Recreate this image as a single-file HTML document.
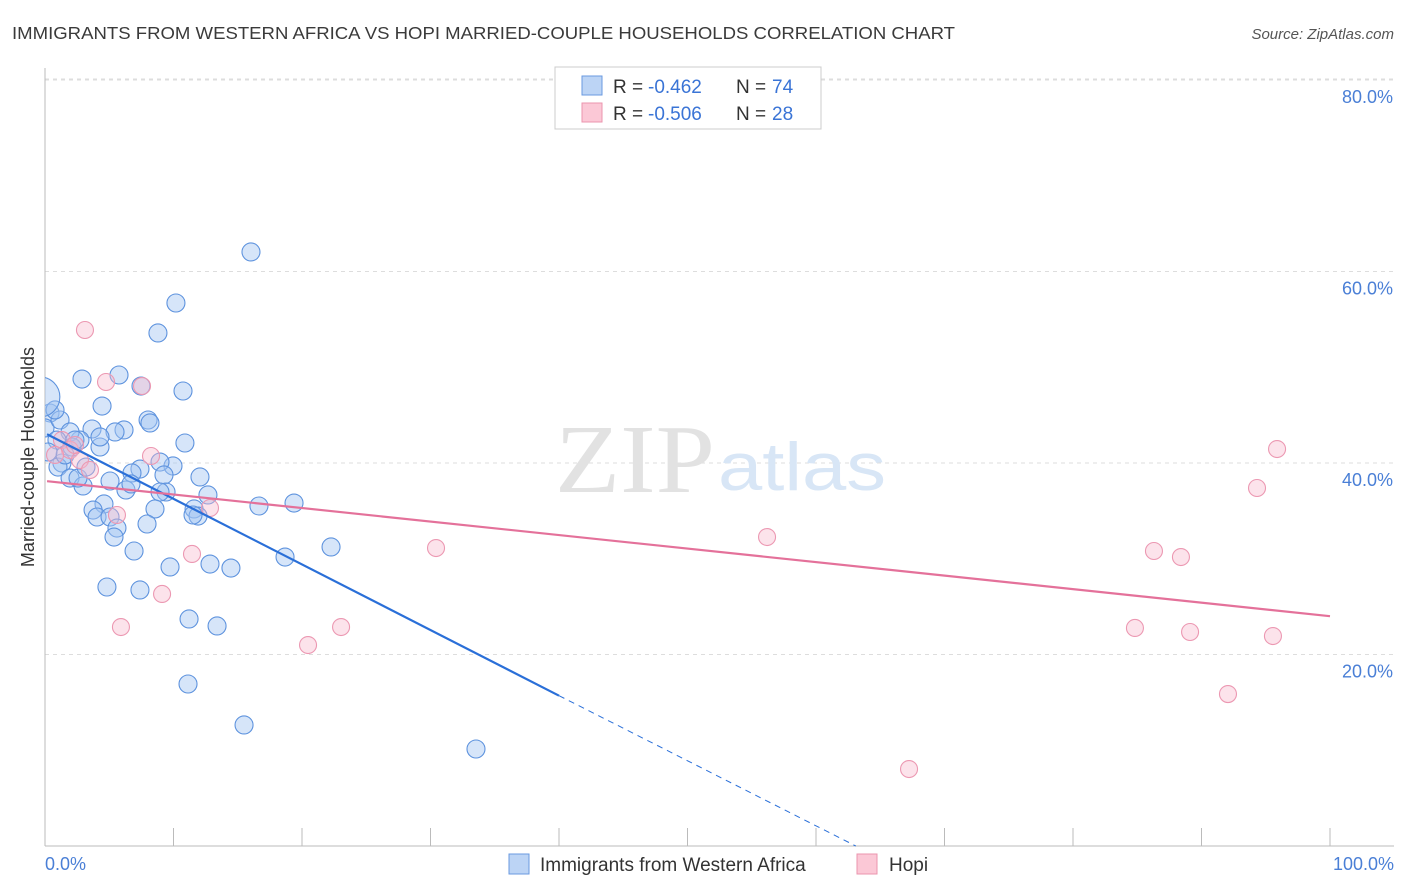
<!DOCTYPE html>
<html><head><meta charset="utf-8"><style>
body{margin:0;background:#fff;font-family:"Liberation Sans",sans-serif}
svg{display:block}
</style></head><body>
<svg width="1406" height="892" xmlns="http://www.w3.org/2000/svg">
<defs><clipPath id="plot"><rect x="45" y="60" width="1360" height="786"/></clipPath></defs>
<text x="12" y="39" font-size="17.5" fill="#3a3a3a" textLength="943" lengthAdjust="spacingAndGlyphs">IMMIGRANTS FROM WESTERN AFRICA VS HOPI MARRIED-COUPLE HOUSEHOLDS CORRELATION CHART</text>
<text x="1394" y="39" font-size="15" fill="#555" text-anchor="end" font-style="italic">Source: ZipAtlas.com</text>
<g id="grid"></g>
<text x="555" y="492" font-size="98" fill="#e2e2e2" font-family="Liberation Serif,serif" textLength="160" lengthAdjust="spacingAndGlyphs">ZIP</text>
<text x="718" y="490" font-size="68" fill="#d8e6f6" textLength="168" lengthAdjust="spacingAndGlyphs">atlas</text>
<line x1="45" y1="68" x2="45" y2="846" stroke="#bbb"/>
<line x1="45" y1="846" x2="1394" y2="846" stroke="#bbb"/>
<g id="ticks"></g>
<g id="ylabels"></g>
<text x="45" y="870" font-size="18" fill="#4a7fd6">0.0%</text>
<text x="1394" y="870" font-size="18" fill="#4a7fd6" text-anchor="end">100.0%</text>
<text transform="translate(34,457) rotate(-90)" font-size="18" fill="#333" text-anchor="middle">Married-couple Households</text>
<g id="pts" clip-path="url(#plot)"></g>
<g id="lines"></g>
<g>
<rect x="555" y="67" width="266" height="62" fill="#fff" stroke="#ccc"/>
<rect x="582" y="76" width="20" height="19" fill="#bcd4f5" stroke="#6a9ae0"/>
<rect x="582" y="103" width="20" height="19" fill="#fbc8d6" stroke="#eb94ae"/>
<text x="613" y="93" font-size="19" fill="#333">R =</text>
<text x="648" y="93" font-size="19" fill="#3a74d6">-0.462</text>
<text x="736" y="93" font-size="19" fill="#333">N =</text>
<text x="772" y="93" font-size="19" fill="#3a74d6">74</text>
<text x="613" y="120" font-size="19" fill="#333">R =</text>
<text x="648" y="120" font-size="19" fill="#3a74d6">-0.506</text>
<text x="736" y="120" font-size="19" fill="#333">N =</text>
<text x="772" y="120" font-size="19" fill="#3a74d6">28</text>
</g>
<g>
<rect x="509" y="854" width="20" height="20" fill="#bcd4f5" stroke="#6a9ae0"/>
<text x="540" y="871" font-size="19" fill="#333">Immigrants from Western Africa</text>
<rect x="857" y="854" width="20" height="20" fill="#fbc8d6" stroke="#eb94ae"/>
<text x="889" y="871" font-size="19" fill="#333">Hopi</text>
</g>
</svg>
<script>
const yTicks=[20,40,60,80];
const yTickLabels=["20.0%","40.0%","60.0%","80.0%"];
const xTicks=[0,10,20,30,40,50,60,70,80,90,100];
const bluePx=[[251,252],[176,303],[158,333],[82,379],[119,375],[141,386],[183,391],[102,406],[148,420],[150,423],[124,430],[115,432],[92,429],[80,440],[185,443],[100,447],[140,469],[173,466],[160,462],[132,473],[200,477],[164,475],[110,481],[126,490],[131,484],[166,492],[208,495],[160,492],[104,504],[259,506],[294,503],[155,509],[93,510],[97,517],[110,517],[194,509],[198,516],[193,515],[147,524],[117,528],[114,537],[134,551],[285,557],[331,547],[210,564],[231,568],[170,567],[107,587],[140,590],[189,619],[217,626],[188,684],[244,725],[476,749],[50,413],[45,428],[60,420],[70,432],[57,440],[72,447],[62,463],[58,467],[70,478],[83,486],[78,478],[86,467],[65,455],[75,440],[55,410],[100,437],[48,452]];
const pinkPx=[[85,330],[106,382],[142,386],[151,456],[117,515],[210,508],[192,554],[162,594],[121,627],[308,645],[341,627],[436,548],[767,537],[909,769],[1277,449],[1257,488],[1154,551],[1181,557],[1135,628],[1190,632],[1273,636],[1228,694],[62,440],[70,450],[80,460],[55,455],[75,445],[90,470]];
const blueX=bluePx.map(p=>+((p[0]-45)/12.85).toFixed(2));
const blueY=bluePx.map(p=>+((846-p[1])/9.575).toFixed(2));
const pinkX=pinkPx.map(p=>+((p[0]-45)/12.85).toFixed(2));
const pinkY=pinkPx.map(p=>+((846-p[1])/9.575).toFixed(2));
const blueTrend=[[0.16,43.0],[40,15.7],[63.1,0]];
const pinkTrend=[[0.16,38.1],[100,24.0]];
const sx=v=>45+v*12.85, sy=v=>846-v*9.575;
const NS="http://www.w3.org/2000/svg";
function mk(tag,parent,attrs){const e=document.createElementNS(NS,tag);for(const k in attrs)e.setAttribute(k,attrs[k]);document.getElementById(parent).appendChild(e);return e;}
yTicks.forEach((t,i)=>{
 const l=mk('line','grid',{x1:45,x2:1394,y1:sy(t),y2:sy(t),stroke:'#ddd','stroke-dasharray':'4,4'});
 
 
 const tx=mk('text','ylabels',{x:1393,y:sy(t)+23,'font-size':18,fill:'#4a7fd6','text-anchor':'end'});
 tx.textContent=yTickLabels[i];
 
 
});
const gl=mk('line','grid',{x1:45,x2:1394,y1:79,y2:79,stroke:'#ddd','stroke-dasharray':'4,4'});


xTicks.forEach(t=>{
 const l=mk('line','ticks',{x1:sx(t),x2:sx(t),y1:828,y2:846,stroke:'#bbb'});
 
 
});
blueX.forEach((x,i)=>{
 const c=mk('circle','pts',{cx:sx(x),cy:sy(blueY[i]),r:9,fill:'rgba(165,198,242,0.45)',stroke:'#5e93de','stroke-width':1.1});
 
 
});
const big=mk('circle','pts',{cx:sx(-0.4),cy:sy(46.9),r:20,fill:'rgba(165,198,242,0.45)',stroke:'#5e93de','stroke-width':1.1});


pinkX.forEach((x,i)=>{
 const c=mk('circle','pts',{cx:sx(x),cy:sy(pinkY[i]),r:8.5,fill:'rgba(248,185,205,0.4)',stroke:'#ec98b2','stroke-width':1.1});
 
 
});
const b1=mk('line','lines',{x1:sx(blueTrend[0][0]),y1:sy(blueTrend[0][1]),x2:sx(blueTrend[1][0]),y2:sy(blueTrend[1][1]),stroke:'#2a6fd8','stroke-width':2.2});


const b2=mk('line','lines',{x1:sx(blueTrend[1][0]),y1:sy(blueTrend[1][1]),x2:sx(blueTrend[2][0]),y2:sy(blueTrend[2][1]),stroke:'#2a6fd8','stroke-width':1,'stroke-dasharray':'6,5'});


const p1=mk('line','lines',{x1:sx(pinkTrend[0][0]),y1:sy(pinkTrend[0][1]),x2:sx(pinkTrend[1][0]),y2:sy(pinkTrend[1][1]),stroke:'#e4719a','stroke-width':2.2});


</script>
</body></html>
